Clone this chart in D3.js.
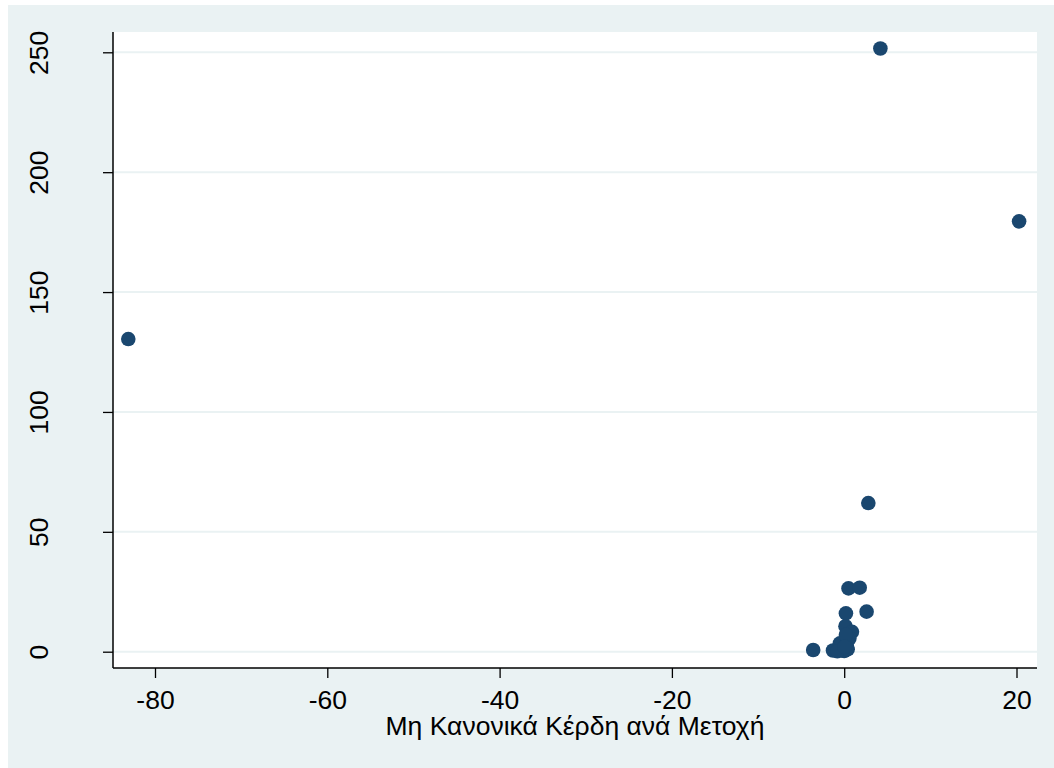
<!DOCTYPE html>
<html>
<head>
<meta charset="utf-8">
<script src="https://cdn.jsdelivr.net/npm/d3@7"></script>
<style>
  html, body { margin: 0; padding: 0; background: #ffffff; }
  svg { display: block; }
  text { font-family: "Liberation Sans", Arial, sans-serif; fill: #000; }
</style>
</head>
<body>
<div id="chart"></div>
<script>
// Abnormal earnings per share (x) against the second measure (y)
const xValues = [-83.1, 4.2, 20.3, 2.8, 0.5, 1.8, 2.6, 0.2, 0.15, 0.9,
                 -3.6, -1.3, -0.3, 0.1, -0.5, 0.3, 0.6, -0.1, 0.0, 0.4, -0.8, 0.2, 0.05];
const yValues = [130.4, 251.6, 179.5, 62.0, 26.4, 26.7, 16.7, 16.0, 10.6, 8.3,
                 0.7, 0.5, 0.6, 4.8, 3.5, 2.5, 5.5, 1.5, 0.3, 1.0, 0.2, 7.0, 2.0];
const xTicks = [-80, -60, -40, -20, 0, 20];
const yTicks = [0, 50, 100, 150, 200, 250];
const xTitle = "Μη Κανονικά Κέρδη ανά Μετοχή";

const W = 1054, H = 768;
const frame = { left: 113, right: 1037, top: 32, bottom: 668 };
const fontSize = 26.5;
const plain = d => String(d);

const svg = d3.select("#chart").append("svg")
  .attr("width", W).attr("height", H);

// outer background
svg.append("rect")
  .attr("x", 8).attr("y", 5)
  .attr("width", W - 8).attr("height", H - 5)
  .attr("fill", "#eaf2f3");

const x = d3.scaleLinear().domain([-80, 20]).range([155, 1016.5]);
const y = d3.scaleLinear().domain([0, 250]).range([651.7, 52.3]);

// plot region
svg.append("rect")
  .attr("x", frame.left).attr("y", frame.top)
  .attr("width", frame.right - frame.left)
  .attr("height", frame.bottom - frame.top)
  .attr("fill", "#ffffff");

// horizontal gridlines
svg.append("g").selectAll("line").data(yTicks).join("line")
  .attr("x1", frame.left).attr("x2", frame.right)
  .attr("y1", d => y(d)).attr("y2", d => y(d))
  .attr("stroke", "#eaf2f3").attr("stroke-width", 2);

// y axis with rotated labels
const yAxis = svg.append("g")
  .attr("transform", `translate(${frame.left},0)`)
  .call(d3.axisLeft(y).tickValues(yTicks).tickSize(10).tickFormat(plain));
yAxis.select(".domain").remove();
yAxis.selectAll(".tick line").attr("stroke", "#000").attr("stroke-width", 1.3);
yAxis.selectAll(".tick text")
  .attr("x", 0).attr("y", 0).attr("dy", "0")
  .attr("transform", "translate(-65,0) rotate(-90)")
  .attr("text-anchor", "middle")
  .attr("font-size", fontSize);
svg.append("line")
  .attr("x1", frame.left).attr("x2", frame.left)
  .attr("y1", frame.top).attr("y2", frame.bottom)
  .attr("stroke", "#000").attr("stroke-width", 1.5);

// x axis
const xAxis = svg.append("g")
  .attr("transform", `translate(0,${frame.bottom})`)
  .call(d3.axisBottom(x).tickValues(xTicks).tickSize(10).tickFormat(plain));
xAxis.select(".domain").remove();
xAxis.selectAll(".tick line").attr("stroke", "#000").attr("stroke-width", 1.3);
xAxis.selectAll(".tick text")
  .attr("font-size", fontSize)
  .attr("dy", "0").attr("y", 41);
svg.append("line")
  .attr("x1", frame.left).attr("x2", frame.right)
  .attr("y1", frame.bottom).attr("y2", frame.bottom)
  .attr("stroke", "#000").attr("stroke-width", 1.5);

// x axis title
svg.append("text")
  .attr("x", (frame.left + frame.right) / 2)
  .attr("y", 735)
  .attr("text-anchor", "middle")
  .attr("font-size", fontSize)
  .text(xTitle);

// points
const points = xValues.map((v, i) => ({ x: v, y: yValues[i] }));
svg.append("g").selectAll("circle").data(points).join("circle")
  .attr("cx", d => x(d.x))
  .attr("cy", d => y(d.y))
  .attr("r", 7.3)
  .attr("fill", "#1a476f");
</script>
</body>
</html>
